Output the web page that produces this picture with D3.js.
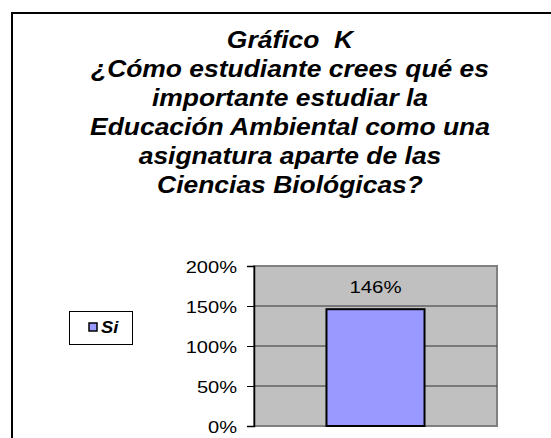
<!DOCTYPE html>
<html>
<head>
<meta charset="utf-8">
<script src="https://cdn.jsdelivr.net/npm/d3@7"></script>
<style>
  body { margin: 0; background: #fff; }
  text { font-family: "Liberation Sans", Arial, sans-serif; white-space: pre; }
</style>
</head>
<body>
<svg width="551" height="438"></svg>
<script>
var titleLines = ["Gráfico  K", "¿Cómo estudiante crees qué es", "importante estudiar la",
                  "Educación Ambiental como una", "asignatura aparte de las", "Ciencias Biológicas?"];
var categories = ["Si"];
var values = [1.46];
var yTicks = [0, 0.5, 1, 1.5, 2];

var width = 551;
var height = 438;

var margin = {left: 254, right: 54, top: 266, bottom: 12};

var svg = d3.select("svg")
              .attr("width", width)
              .attr("height", height);

// outer frame, runs off the right and bottom
svg.append("path")
    .attr("d", "M12,440 L12,13 L553,13")
    .attr("fill", "none")
    .attr("stroke", "#000")
    .attr("stroke-width", 2);

// the original picture is stretched sideways, so text is too
function stretchedText(g, x, y, str, sx){
  return g.append("text")
            .attr("transform", "translate(" + x + "," + y + ") scale(" + sx + ",1)")
            .text(str);
}

var title = svg.append("g")
                .style("font-size", "23px")
                .style("font-weight", "bold")
                .style("font-style", "italic")
                .attr("text-anchor", "middle");

titleLines.forEach((line, i) => {
  stretchedText(title, 290, 48 + i * 29, line, 1.15);
});

var y = d3.scaleLinear()
            .domain([0, 2])
            .range([height - margin.bottom, margin.top]);

var x = d3.scaleBand()
            .domain(categories)
            .range([margin.left, width - margin.right])
            .padding(0.425);

var plot = svg.append("g");

plot.append("rect")
    .attr("x", margin.left)
    .attr("y", margin.top)
    .attr("width", width - margin.right - margin.left)
    .attr("height", height - margin.bottom - margin.top)
    .attr("fill", "#c0c0c0")
    .attr("stroke", "#808080")
    .attr("stroke-width", 2);

plot.selectAll(".grid")
    .data(yTicks.slice(1, -1))
    .enter()
    .append("line")
      .classed("grid", true)
      .attr("x1", margin.left)
      .attr("x2", width - margin.right)
      .attr("y1", d => y(d))
      .attr("y2", d => y(d))
      .attr("stroke", "#333")
      .attr("stroke-width", 1);

plot.selectAll(".bar")
    .data(values)
    .enter()
    .append("rect")
      .classed("bar", true)
      .attr("x", (d, i) => x(categories[i]))
      .attr("width", x.bandwidth())
      .attr("y", d => y(d))
      .attr("height", d => y(0) - y(d))
      .attr("fill", "#9999ff")
      .attr("stroke", "#000")
      .attr("stroke-width", 2);

var labels = plot.append("g")
                  .style("font-size", "17px")
                  .attr("text-anchor", "middle");

values.forEach((v, i) => {
  stretchedText(labels, x(categories[i]) + x.bandwidth() / 2, y(2) + 27, d3.format(".0%")(v), 1.2);
});

// y axis
var axis = svg.append("g")
                .attr("transform", "translate(" + margin.left + ",0)")
                .call(d3.axisLeft(y).tickValues(yTicks).tickFormat(d3.format(".0%")).tickSize(7).tickPadding(10));

axis.select(".domain").attr("stroke", "#000").attr("stroke-width", 1.5);
axis.selectAll(".tick line").attr("stroke", "#000");
axis.selectAll(".tick text")
    .attr("fill", "#000")
    .style("font-size", "17px")
    .attr("dy", "0.36em")
    .attr("transform", function(){
      var tx = +d3.select(this).attr("x");
      return "translate(" + tx + ",0) scale(1.18,1)";
    })
    .attr("x", 0);

// legend
var legend = svg.append("g");

legend.append("rect")
    .attr("x", 69.5)
    .attr("y", 311.5)
    .attr("width", 63)
    .attr("height", 33)
    .attr("fill", "#fff")
    .attr("stroke", "#000")
    .attr("stroke-width", 1);

legend.selectAll(".swatch")
    .data(categories)
    .enter()
    .append("rect")
      .classed("swatch", true)
      .attr("x", 89)
      .attr("y", 323)
      .attr("width", 8)
      .attr("height", 8)
      .attr("fill", "#9999ff")
      .attr("stroke", "#000")
      .attr("stroke-width", 1.5);

var legendText = legend.append("g")
                  .style("font-size", "16px")
                  .style("font-weight", "bold")
                  .style("font-style", "italic");

categories.forEach((c, i) => {
  stretchedText(legendText, 101, 333, c, 1.15);
});
</script>
</body>
</html>
